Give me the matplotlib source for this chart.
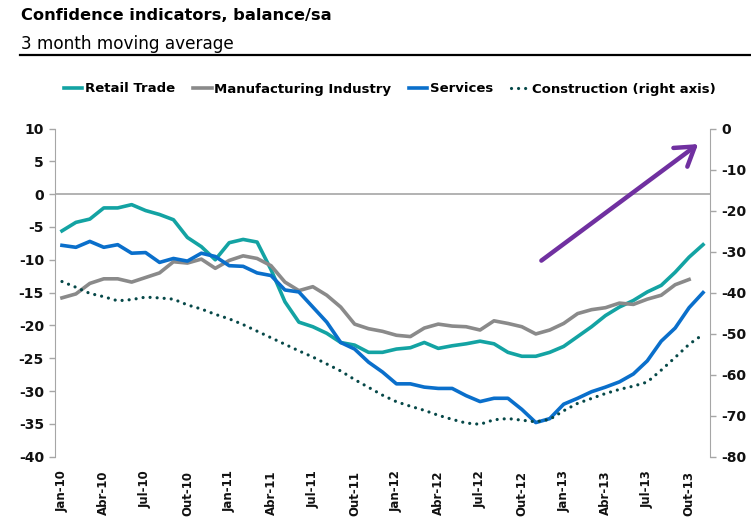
import numpy as np
import matplotlib
matplotlib.use("Agg")
import matplotlib.pyplot as plt
from matplotlib import font_manager
from matplotlib.lines import Line2D

# monthly data, Jan-10 .. Nov-13 (3 month moving average)
months = [f"{m}-{y}" for y in ["10", "11", "12", "13"]
          for m in ["Jan", "Fev", "Mar", "Abr", "Mai", "Jun",
                    "Jul", "Ago", "Set", "Out", "Nov", "Dez"]][:47]

retail = [-5.6, -4.3, -3.8, -2.1, -2.1, -1.6, -2.5, -3.1, -3.9, -6.6, -8.0, -10.0,
          -7.4, -6.9, -7.3, -11.5, -16.4, -19.5, -20.2, -21.2, -22.6, -23.0, -24.1, -24.1,
          -23.6, -23.4, -22.6, -23.5, -23.1, -22.8, -22.4, -22.8, -24.1, -24.7, -24.7, -24.1,
          -23.2, -21.7, -20.2, -18.5, -17.2, -16.2, -14.9, -13.9, -11.9, -9.6, -7.7]

manufacturing = [-15.8, -15.2, -13.6, -12.9, -12.9, -13.4, -12.7, -12.0, -10.3, -10.5, -9.9, -11.3,
                 -10.1, -9.4, -9.8, -10.9, -13.4, -14.7, -14.1, -15.4, -17.2, -19.8, -20.5, -20.9,
                 -21.5, -21.7, -20.4, -19.8, -20.1, -20.2, -20.7, -19.3, -19.7, -20.2, -21.3, -20.7,
                 -19.7, -18.2, -17.6, -17.3, -16.6, -16.8, -16.0, -15.4, -13.8, -13.0]

services = [-7.8, -8.1, -7.2, -8.1, -7.7, -9.0, -8.9, -10.4, -9.8, -10.2, -9.0, -9.5,
            -10.9, -11.0, -12.0, -12.4, -14.6, -14.9, -17.2, -19.5, -22.6, -23.6, -25.6, -27.1,
            -28.9, -28.9, -29.4, -29.6, -29.6, -30.7, -31.6, -31.1, -31.1, -32.8, -34.8, -34.2,
            -32.0, -31.1, -30.1, -29.4, -28.6, -27.4, -25.4, -22.4, -20.4, -17.3, -15.0]

construction = [-37.3, -38.7, -40.2, -41.0, -42.0, -41.7, -41.1, -41.3, -41.6, -43.0, -44.0, -45.3,
                -46.4, -47.8, -49.4, -51.0, -52.6, -54.2, -55.7, -57.4, -59.1, -61.2, -63.1, -65.0,
                -66.6, -67.7, -68.7, -69.9, -70.9, -71.8, -72.1, -71.0, -70.7, -71.1, -71.5, -70.9,
                -68.8, -67.0, -65.8, -64.6, -63.6, -62.8, -61.8, -58.9, -55.8, -52.6, -50.2]

TEAL = "#13A3A3"
GREY = "#8A8A8A"
BLUE = "#0A6FCB"
DARK = "#064848"
PURPLE = "#7030A0"
AXIS = "#A6A6A6"

installed = {f.name for f in font_manager.fontManager.ttflist}
narrow = "Liberation Sans Narrow" if "Liberation Sans Narrow" in installed else "DejaVu Sans"
plt.rcParams["font.family"] = "DejaVu Sans"
plt.rcParams["axes.unicode_minus"] = False

W, H = 751, 519
fig = plt.figure(figsize=(W / 100, H / 100), dpi=100)
ax = fig.add_axes([55 / W, 1 - 456.7 / H, (710 - 55) / W, (456.7 - 128.5) / H])
ax2 = ax.twinx()

x = np.arange(len(months))
ax.axhline(0, color=AXIS, lw=1.2, zorder=1)
ax.plot(x, retail, color=TEAL, lw=2.6, solid_joinstyle="round")
ax.plot(x[:len(manufacturing)], manufacturing, color=GREY, lw=2.6, solid_joinstyle="round")
ax.plot(x, services, color=BLUE, lw=2.6, solid_joinstyle="round")
ax2.plot(x, construction, color=DARK, lw=2.3, linestyle=(0, (0.01, 2.2)),
         dash_capstyle="round")

ax.set_xlim(-0.5, len(months) - 0.5)
ax.set_ylim(-40, 10)
ax2.set_ylim(-80, 0)
ax.set_yticks(range(-40, 11, 5))
ax2.set_yticks(range(-80, 1, 10))
ax.set_xticks(x[::3])
ax.set_xticklabels(months[::3], rotation=90)

for a in (ax, ax2):
    for s in ("top", "bottom"):
        a.spines[s].set_visible(False)
    a.spines["left"].set_color(AXIS)
    a.spines["right"].set_color(AXIS)
    a.tick_params(axis="y", colors=AXIS, length=4, width=1, labelcolor="#111111",
                  labelsize=10, pad=4)
    for lab in a.get_yticklabels():
        lab.set_fontweight("bold")
ax.spines["right"].set_visible(False)
ax2.spines["left"].set_visible(False)
ax.tick_params(axis="x", length=0, pad=10, labelsize=8.5, labelcolor="#111111")
for lab in ax.get_xticklabels():
    lab.set_fontweight("bold")

# trend arrow
ax2.annotate("", xy=(45.65, -1.9 * 2), xytext=(34.4, -16.1 * 2),
             arrowprops=dict(arrowstyle="->,head_length=0.65,head_width=0.42",
                             color=PURPLE, lw=3.2, shrinkA=0, shrinkB=0,
                             mutation_scale=20))

# header
fig.text(21 / W, 1 - 16 / H, "Confidence indicators, balance/sa", fontsize=11.7,
         fontweight="bold", family=narrow, va="center", ha="left")
fig.text(21 / W, 1 - 44 / H, "3 month moving average", fontsize=12.2,
         family=narrow, va="center", ha="left")
fig.add_artist(Line2D([20 / W, 1.0], [1 - 54.5 / H] * 2, color="black", lw=1.6))

handles = [Line2D([], [], color=TEAL, lw=2.6),
           Line2D([], [], color=GREY, lw=2.6),
           Line2D([], [], color=BLUE, lw=2.6),
           Line2D([], [], color=DARK, lw=2.3, linestyle=(0, (0.01, 2.2)), dash_capstyle="round")]
labels = ["Retail Trade", "Manufacturing Industry", "Services", "Construction (right axis)"]
fig.legend(handles, labels, loc="center", bbox_to_anchor=(390 / W, 1 - 89 / H), ncol=4,
           frameon=False, handlelength=1.4, handletextpad=0.2, columnspacing=1.35,
           prop=dict(family=narrow, weight="bold", size=9.5))

fig.savefig("out.png", dpi=100)
